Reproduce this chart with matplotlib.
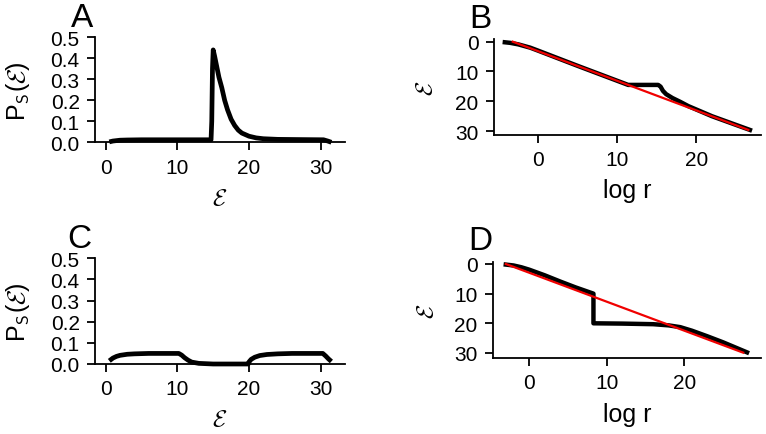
import numpy as np
import matplotlib.pyplot as plt

plt.rcParams['font.family'] = ['Liberation Sans', 'DejaVu Sans']

W, H = 766, 435

# panel A: P_S(E) with one peak
a_x = [0.5, 1, 2, 3, 5, 10, 14.7, 14.8, 14.9, 15.0, 15.2, 15.5, 15.8, 16.2, 16.6,
       17.0, 17.5, 18.0, 18.5, 19.0, 20.0, 21, 22, 24, 27, 30.4, 31.0, 31.5]
a_y = [0.002, 0.006, 0.010, 0.011, 0.012, 0.012, 0.012, 0.10, 0.35, 0.44, 0.41,
       0.36, 0.31, 0.26, 0.20, 0.155, 0.11, 0.08, 0.058, 0.044, 0.029, 0.021,
       0.017, 0.014, 0.013, 0.012, 0.006, 0.0]

# panel C: two plateaus
c_x = [0.5, 1, 1.5, 2, 3, 4, 6, 10.2, 10.6, 11, 11.5, 12, 13, 15, 19.9, 20.0,
       20.3, 20.8, 21.5, 22.5, 24, 26, 30.3, 30.7, 31.1, 31.5]
c_y = [0.015, 0.028, 0.036, 0.041, 0.046, 0.048, 0.05, 0.05, 0.042, 0.030, 0.018,
       0.009, 0.003, 0.0, 0.0, 0.01, 0.022, 0.032, 0.040, 0.045, 0.048, 0.05,
       0.05, 0.038, 0.024, 0.012]

# panel B: E vs log r
b_x = [-4.2, -3.5, -2.5, -1, 0, 5, 10, 11.4, 15.2, 15.5, 15.8, 16.2, 17, 18, 19,
       22, 26.8]
b_y = [0.2, 0.4, 0.9, 2.0, 3.0, 8.1, 13.1, 14.5, 14.5, 15.1, 16.5, 17.6, 18.9,
       20.2, 21.6, 25.0, 29.6]
b_red_x = [-3.2, 26.6]
b_red_y = [0.0, 29.6]

# panel D
d_x = [-3.0, -2, -1, 0, 2, 4, 6, 8.3, 8.3, 12, 16, 18, 19.5, 21, 23, 25, 28.1]
d_y = [0.2, 0.5, 1.1, 1.9, 3.8, 5.9, 7.9, 10.0, 20.0, 20.1, 20.3, 20.7, 21.3,
       22.5, 24.4, 26.4, 29.8]
d_red_x = [-3.0, 27.6]
d_red_y = [0.0, 29.9]

E = r'$\mathcal{E}$'


def box(l, t, r, b):
    return [l / W, 1 - b / H, (r - l) / W, (b - t) / H]


def style(ax):
    for s in ['top', 'right']:
        ax.spines[s].set_visible(False)
    for s in ['left', 'bottom']:
        ax.spines[s].set_linewidth(1.3)
    ax.tick_params(direction='out', length=6, width=1.3, pad=5, labelsize=15)


fig = plt.figure(figsize=(W / 100, H / 100), dpi=100)

axA = fig.add_axes(box(95, 38.3, 345, 143.3))
axB = fig.add_axes(box(494, 40, 761, 136))
axC = fig.add_axes(box(95, 259.3, 345, 365))
axD = fig.add_axes(box(493, 263, 761, 359))

for ax, xs, ys in [(axA, a_x, a_y), (axC, c_x, c_y)]:
    style(ax)
    ax.plot(xs, ys, color='black', lw=3.4, clip_on=False, solid_capstyle='butt')
    ax.set_xlim(-1.5, 33.4)
    ax.set_ylim(0, 0.5)
    ax.set_xticks([0, 10, 20, 30])
    ax.set_yticks(np.arange(0, 0.51, 0.1))
    ax.set_yticklabels(['%.1f' % v for v in np.arange(0, 0.51, 0.1)])
    ax.set_xlabel(E, fontsize=17, math_fontfamily='cm')
    ax.set_ylabel(r'P$_\mathsf{S}$(' + E + ')', fontsize=18, math_fontfamily='cm')
    ax.xaxis.label.set_va('center')
    ax.yaxis.label.set_va('center')
    ax.yaxis.set_label_coords(-0.31, 0.5)
axA.xaxis.set_label_coords(0.5, -0.535)
axC.xaxis.set_label_coords(0.5, -0.52)

for ax, xs, ys, rx, ry, xl, yl in [(axB, b_x, b_y, b_red_x, b_red_y, (-5.57, 28.2), (31.3, -0.9)),
                                   (axD, d_x, d_y, d_red_x, d_red_y, (-4.65, 29.9), (31.7, -0.67))]:
    style(ax)
    ax.plot(xs, ys, color='black', lw=3.2, clip_on=False)
    ax.plot(rx, ry, color='#f00000', lw=1.6, clip_on=False)
    ax.set_xlim(*xl)
    ax.set_ylim(*yl)
    ax.set_xticks([0, 10, 20])
    ax.set_yticks([0, 10, 20, 30])
    ax.set_xlabel('log r', fontsize=18)
    ax.set_ylabel(E, fontsize=17, math_fontfamily='cm')
    ax.xaxis.label.set_va('center')
    ax.yaxis.label.set_va('center')
axB.xaxis.set_label_coords(0.5, -0.573)
axB.yaxis.set_label_coords(-0.255, 0.5)
axD.xaxis.set_label_coords(0.5, -0.583)
axD.yaxis.set_label_coords(-0.246, 0.5)

for lab, x, y in [('A', 82.5, 27), ('B', 480, 28), ('C', 79.5, 248), ('D', 480, 250)]:
    fig.text(x / W, 1 - y / H, lab, fontsize=24, ha='center', va='baseline')

fig.savefig('out.png', dpi=100)
